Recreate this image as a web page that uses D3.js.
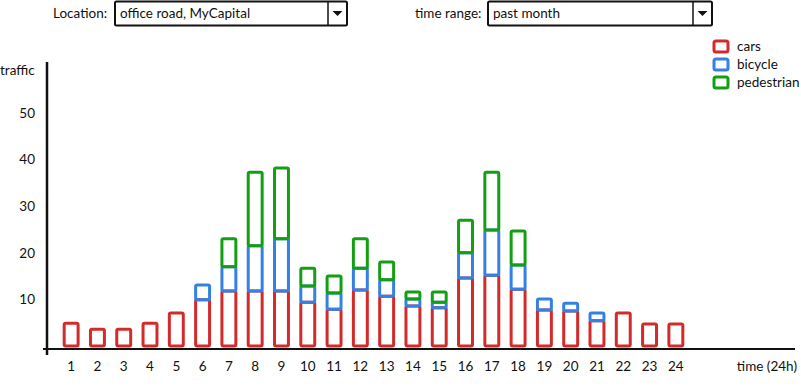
<!DOCTYPE html>
<html>
<head>
<meta charset="utf-8">
<script src="https://cdn.jsdelivr.net/npm/d3@7"></script>
<style>
  body { margin: 0; background: #fff; }
  svg text { font-family: Lato, "Open Sans", sans-serif; fill: #111; }
</style>
</head>
<body>
<svg id="chart" width="801" height="391"></svg>
<script>
// hourly traffic
const hours = d3.range(1, 25);
const cars = [4.9, 3.6, 3.6, 4.9, 7.1, 9.9, 11.8, 11.8, 11.8, 9.4, 7.9, 12.0,
              10.7, 8.6, 8.2, 14.6, 15.2, 12.2, 7.7, 7.5, 5.4, 7.1, 4.7, 4.7];
const bicycle = [0, 0, 0, 0, 0, 3.2, 5.2, 9.7, 11.2, 3.5, 3.5, 4.7,
                 3.5, 1.5, 1.2, 5.4, 9.7, 5.2, 2.4, 1.7, 1.7, 0, 0, 0];
const pedestrian = [0, 0, 0, 0, 0, 0, 6.0, 15.8, 15.2, 3.8, 3.6, 6.3,
                    3.8, 1.5, 2.2, 7.0, 12.4, 7.3, 0, 0, 0, 0, 0, 0];
const yTicks = [10, 20, 30, 40, 50];
const seriesNames = ['cars', 'bicycle', 'pedestrian'];
const colors = ['#d22b2b', '#3580e3', '#12a012'];

const svg = d3.select('#chart');
const fs = 13.5;

const rows = hours.map((h, i) => ({hour: h, cars: cars[i], bicycle: bicycle[i], pedestrian: pedestrian[i]}));
const stacked = d3.stack().keys(seriesNames)(rows);

const x = d3.scaleBand().domain(hours).range([58, 689]).paddingInner(0.47).paddingOuter(0.235);
const y = d3.scaleLinear().domain([0, 50]).range([346, 113]);

// the dropdowns on top
function dropdown(lx, label, bx, bw, value) {
  svg.append('text').attr('x', lx).attr('y', 18).attr('font-size', fs).text(label);
  svg.append('rect').attr('x', bx).attr('y', 1.5).attr('width', bw).attr('height', 24)
    .attr('fill', '#fff').attr('stroke', '#111').attr('stroke-width', 2).attr('rx', 1.5);
  svg.append('line').attr('x1', bx + bw - 19).attr('x2', bx + bw - 19).attr('y1', 2).attr('y2', 25)
    .attr('stroke', '#111').attr('stroke-width', 1.5);
  svg.append('text').attr('x', bx + 5).attr('y', 18).attr('font-size', fs).text(value);
  const cx = bx + bw - 9.5;
  svg.append('path').attr('d', `M${cx - 5},11 L${cx + 5},11 L${cx},16 Z`).attr('fill', '#111');
}
dropdown(53, 'Location:', 115, 232, 'office road, MyCapital');
dropdown(415, 'time range:', 488, 224, 'past month');

// bars
svg.append('g').selectAll('g').data(stacked).enter().append('g')
  .attr('stroke', (d, i) => colors[i])
  .selectAll('rect').data(d => d.filter(s => s[1] - s[0] > 0)).enter().append('rect')
  .attr('x', d => x(d.data.hour))
  .attr('y', d => y(d[1]))
  .attr('width', x.bandwidth())
  .attr('height', d => y(d[0]) - y(d[1]))
  .attr('rx', 1.5)
  .attr('fill', 'none')
  .attr('stroke-width', 3);

// axes
const yAxis = svg.append('g').attr('transform', 'translate(47,0)')
  .call(d3.axisLeft(y).tickValues(yTicks).tickSize(0).tickPadding(12));
yAxis.select('.domain').remove();
yAxis.selectAll('text').attr('font-size', fs).attr('font-family', 'Lato, sans-serif').attr('fill', '#111');

const xAxis = svg.append('g').attr('transform', 'translate(0,' + (y(0) + 3) + ')')
  .call(d3.axisBottom(x).tickSize(0).tickPadding(12));
xAxis.select('.domain').remove();
xAxis.selectAll('text').attr('font-size', fs).attr('font-family', 'Lato, sans-serif').attr('fill', '#111');

svg.append('line').attr('x1', 47).attr('x2', 47).attr('y1', 62).attr('y2', 355)
  .attr('stroke', '#111').attr('stroke-width', 2.5);
svg.append('line').attr('x1', 43).attr('x2', 795).attr('y1', y(0) + 3).attr('y2', y(0) + 3)
  .attr('stroke', '#111').attr('stroke-width', 2);

svg.append('text').attr('x', 0).attr('y', 75).attr('font-size', fs).text('traffic');
svg.append('text').attr('x', 797).attr('y', 371).attr('text-anchor', 'end').attr('font-size', fs).text('time (24h)');

// legend
const legend = svg.append('g').selectAll('g').data(seriesNames).enter().append('g')
  .attr('transform', (d, i) => `translate(714,${41 + i * 18})`);
legend.append('rect').attr('width', 14).attr('height', 11).attr('rx', 2)
  .attr('fill', 'none').attr('stroke', (d, i) => colors[i]).attr('stroke-width', 3);
legend.append('text').attr('x', 23).attr('y', 10).attr('font-size', fs).text(d => d);
</script>
</body>
</html>
